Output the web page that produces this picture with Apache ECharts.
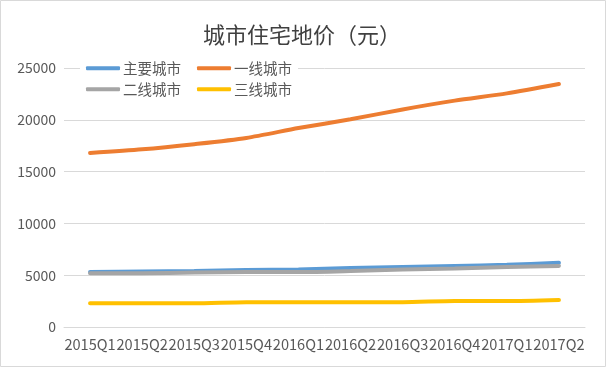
<!DOCTYPE html>
<html><head><meta charset="utf-8">
<script src="https://cdn.jsdelivr.net/npm/echarts@6/dist/echarts.min.js"></script>
<style>html,body{margin:0;padding:0;background:#fff}#c{width:607px;height:368px}</style>
</head><body><div id="c"></div>
<script>
const categories = ['2015Q1','2015Q2','2015Q3','2015Q4','2016Q1','2016Q2','2016Q3','2016Q4','2017Q1','2017Q2'];
const mainCities = [5300, 5350, 5400, 5500, 5550, 5700, 5800, 5900, 6000, 6200];
const tier1 = [16800, 17150, 17650, 18250, 19200, 20050, 21000, 21850, 22550, 23450];
const tier2 = [5200, 5200, 5250, 5300, 5300, 5400, 5550, 5650, 5800, 5900];
const tier3 = [2300, 2300, 2300, 2400, 2400, 2400, 2400, 2500, 2500, 2600];
const seriesNames = ['主要城市','一线城市','二线城市','三线城市'];
const colors = ['#5B9BD5','#ED7D31','#A5A5A5','#FFC000'];
const yTicks = [0, 5000, 10000, 15000, 20000, 25000];

const font = '"Noto Sans CJK SC", "Noto Sans", sans-serif';
const chart = echarts.init(document.getElementById('c'), null, {renderer:'canvas'});
const dataArr = [mainCities, tier1, tier2, tier3];
const legendCommon = {
  left: 80, itemWidth: 34, itemHeight: 4, itemGap: 16, icon: 'roundRect',
  backgroundColor: '#fff', padding: [2, 6, 2, 6],
  textStyle: {fontFamily: font, fontSize: 14.5, color: '#595959', padding: [0,0,0,-2]}
};
chart.setOption({
  animation: false,
  color: colors,
  title: {text: '城市住宅地价（元）', left: 198, top: 19,
    textStyle: {fontFamily: font, fontSize: 22, fontWeight: 'normal', color: '#404040'}},
  graphic: [{type:'rect', shape:{x:0.5,y:0.5,width:605,height:366}, style:{fill:'none', stroke:'#D9D9D9', lineWidth:1}, silent:true}],
  legend: [
    Object.assign({}, legendCommon, {top: 59, data: [seriesNames[0], seriesNames[1]]}),
    Object.assign({}, legendCommon, {top: 80, data: [seriesNames[2], seriesNames[3]]})
  ],
  grid: {left: 64, right: 22, top: 68, bottom: 41, containLabel: false},
  xAxis: {type: 'category', data: categories, boundaryGap: true,
    axisLine: {lineStyle: {color: '#D9D9D9'}}, axisTick: {show: false},
    axisLabel: {interval: 0, fontFamily: font, fontSize: 14.6, color: '#595959', margin: 10}},
  yAxis: {type: 'value', min: yTicks[0], max: yTicks[yTicks.length-1], interval: 5000,
    axisLine: {show: false}, axisTick: {show: false},
    splitLine: {lineStyle: {color: '#D9D9D9', width: 1}},
    axisLabel: {fontFamily: font, fontSize: 14, color: '#595959', margin: 8, formatter: v => String(v)}},
  series: seriesNames.map((n, i) => ({
    name: n, type: 'line', data: dataArr[i], showSymbol: false, symbol: 'none',
    smooth: 0.25, lineStyle: {width: 4, color: colors[i], cap: 'round'}, z: 2 + i
  }))
});
</script></body></html>
